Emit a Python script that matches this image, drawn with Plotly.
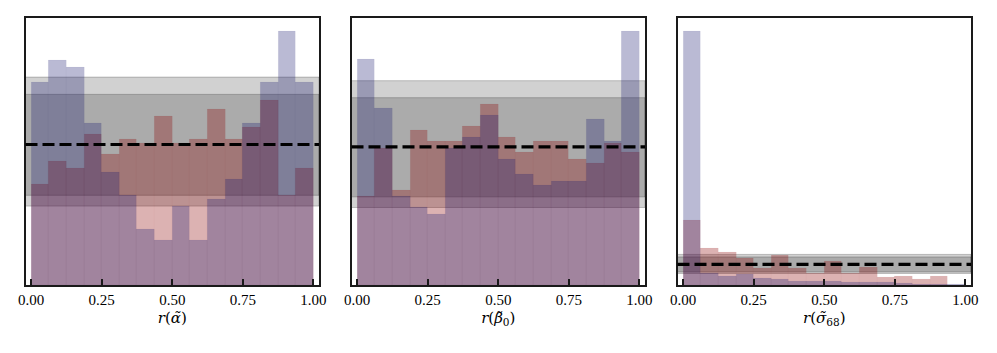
import plotly.graph_objects as go

# ---------------- data ----------------
bin_edges = [i / 16 for i in range(17)]
tick_vals = [0.0, 0.25, 0.5, 0.75, 1.0]
tick_text = ["0.00", "0.25", "0.50", "0.75", "1.00"]

titles = ["<i>r</i>(<i>α̃</i>)", "<i>r</i>(<i>β̃</i><sub>0</sub>)", "<i>r</i>(<i>σ̃</i><sub>68</sub>)"]

blue_alpha = [90, 100, 97, 72, 50, 40, 25, 20, 35, 20, 38, 47, 72, 90, 113, 90]
pink_alpha = [45, 55, 52, 67, 58, 65, 63, 75, 63, 65, 78, 65, 70, 82, 40, 52]

blue_beta = [102, 80, 40, 35, 32, 62, 67, 77, 57, 50, 45, 47, 47, 75, 65, 115]
pink_beta = [40, 62, 43, 70, 65, 65, 72, 82, 67, 60, 65, 65, 57, 55, 64, 60]

blue_sigma = [768, 35, 27, 33, 20, 18, 12, 11, 12, 7, 7, 9, 5, 3, 2, 2]
pink_sigma = [197, 110, 99, 82, 50, 91, 52, 35, 73, 35, 55, 23, 27, 18, 25, 0]

band_outer = [35.1, 92.5]
band_inner = [39.9, 84.8]
expected = 62.5

panels = [(blue_alpha, pink_alpha), (blue_beta, pink_beta), (blue_sigma, pink_sigma)]

# ---------------- styling ----------------
W, H = 997, 353
x_px = [(25.5, 319.0), (351.5, 645.0), (677.5, 971.0)]
y_px = (18.3, 285.0)
blue_fill = "rgba(25,25,112,0.3)"
pink_fill = "rgba(139,0,0,0.3)"
font_serif = "Liberation Serif"
font_title = "DejaVu Serif"

centers = [(bin_edges[i] + bin_edges[i + 1]) / 2 for i in range(16)]
width = bin_edges[1] - bin_edges[0]

fig = go.Figure()
shapes = []
for k, (blue, pink) in enumerate(panels):
    xa = "x" if k == 0 else f"x{k+1}"
    ya = "y" if k == 0 else f"y{k+1}"
    fig.add_trace(go.Bar(x=centers, y=pink, width=width, xaxis=xa, yaxis=ya,
                         marker=dict(color=pink_fill, line=dict(color="rgba(139,0,0,0.06)", width=0.5)),
                         showlegend=False, hoverinfo="skip"))
    fig.add_trace(go.Bar(x=centers, y=blue, width=width, xaxis=xa, yaxis=ya,
                         marker=dict(color=blue_fill, line=dict(color="rgba(25,25,112,0.06)", width=0.5)),
                         showlegend=False, hoverinfo="skip"))
    for band in (band_outer, band_inner):
        shapes.append(dict(type="rect", xref=f"{xa} domain", yref=ya, x0=0, x1=1,
                           y0=band[0], y1=band[1], layer="below",
                           fillcolor="rgba(0,0,0,0.18)",
                           line=dict(color="rgba(0,0,0,0.22)", width=1)))
    shapes.append(dict(type="line", xref=f"{xa} domain", yref=ya, x0=0, x1=1,
                       y0=expected, y1=expected, layer="above",
                       line=dict(color="black", width=3.2, dash="12px,5px")))
    ymax = 1.05 * max(max(blue), max(pink), band_outer[1])
    xd = [x_px[k][0] / W, x_px[k][1] / W]
    yd = [(H - y_px[1]) / H, (H - y_px[0]) / H]
    fig.layout[("xaxis" if k == 0 else f"xaxis{k+1}")] = dict(
        domain=xd, range=[-0.02, 1.02], anchor=ya, automargin=False,
        showline=True, mirror=True, linecolor="#1a1a1a", linewidth=1.6,
        ticks="inside", ticklen=6, tickwidth=1.5, tickcolor="#1a1a1a",
        tickvals=tick_vals, ticktext=tick_text,
        tickfont=dict(family=font_serif, size=15, color="black"),
        showgrid=False, zeroline=False,
        title=dict(text=titles[k], font=dict(family=font_title, size=15, color="black"), standoff=6),
    )
    fig.layout[("yaxis" if k == 0 else f"yaxis{k+1}")] = dict(
        domain=yd, range=[0, ymax], anchor=xa, automargin=False,
        showline=True, mirror=True, linecolor="#1a1a1a", linewidth=1.6,
        ticks="", showticklabels=False, showgrid=False, zeroline=False,
    )

fig.update_layout(width=W, height=H, margin=dict(l=0, r=0, t=0, b=0, pad=0),
                  barmode="overlay", bargap=0, shapes=shapes,
                  font=dict(family=font_serif, color="black"),
                  paper_bgcolor="white", plot_bgcolor="white")
fig.write_html("out.html", config={"displayModeBar": False},
               post_script="document.body.style.margin='0';document.body.style.overflow='hidden';")
